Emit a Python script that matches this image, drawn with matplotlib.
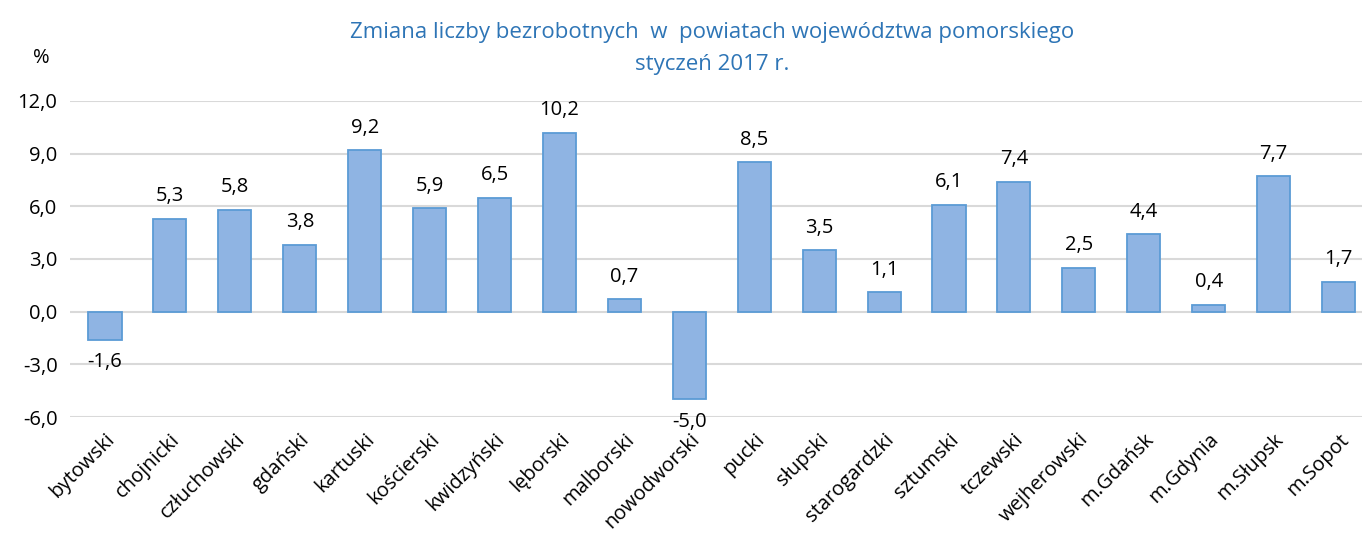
import matplotlib
matplotlib.use("Agg")
from matplotlib import pyplot as plt

powiaty = ["bytowski", "chojnicki", "człuchowski", "gdański", "kartuski",
           "kościerski", "kwidzyński", "lęborski", "malborski", "nowodworski",
           "pucki", "słupski", "starogardzki", "sztumski", "tczewski",
           "wejherowski", "m.Gdańsk", "m.Gdynia", "m.Słupsk", "m.Sopot"]
zmiana = [-1.6, 5.3, 5.8, 3.8, 9.2, 5.9, 6.5, 10.2, 0.7, -5.0,
          8.5, 3.5, 1.1, 6.1, 7.4, 2.5, 4.4, 0.4, 7.7, 1.7]
yticks = [-6, -3, 0, 3, 6, 9, 12]

plt.rcParams['font.family'] = ['Open Sans', 'DejaVu Sans']

fig = plt.figure(figsize=(13.62, 5.36), dpi=100)
# plot area runs a bit past the right edge, as in the original crop
ax = fig.add_axes([0.0514, 0.222, 0.9552, 0.5896])

x = list(range(len(powiaty)))
ax.bar(x, zmiana, width=0.51, color="#8FB4E3", edgecolor="#5B9BD5", linewidth=1.3, zorder=3)

for xi, v in zip(x, zmiana):
    lab = ("%.1f" % v).replace(".", ",")
    if v >= 0:
        ax.annotate(lab, (xi, v), xytext=(0, 9), textcoords="offset points",
                    ha="center", va="bottom", fontsize=14.5)
    else:
        ax.annotate(lab, (xi, v), xytext=(0, -9), textcoords="offset points",
                    ha="center", va="top", fontsize=14.5)

ax.set_xlim(-0.539, len(powiaty) - 0.5)
ax.set_ylim(-6, 12)
ax.set_yticks(yticks)
ax.set_yticklabels([("%.1f" % t).replace(".", ",") for t in yticks], fontsize=14.5)
ax.set_xticks(x)
ax.set_xticklabels(powiaty, rotation=45, ha="right", rotation_mode="anchor", fontsize=14.5)
ax.tick_params(axis="both", length=0, pad=9)
ax.grid(axis="y", color="#D9D9D9", linewidth=1.5, zorder=0)
for s in ax.spines.values():
    s.set_visible(False)

fig.text(0.523, 0.939, "Zmiana liczby bezrobotnych  w  powiatach województwa pomorskiego",
         ha="center", va="center", color="#2E75B6", fontsize=16)
fig.text(0.523, 0.879, "styczeń 2017 r.", ha="center", va="center", color="#2E75B6", fontsize=16)
fig.text(0.03, 0.891, "%", ha="center", va="center", fontsize=14.5)

fig.savefig("out.png", dpi=100)
